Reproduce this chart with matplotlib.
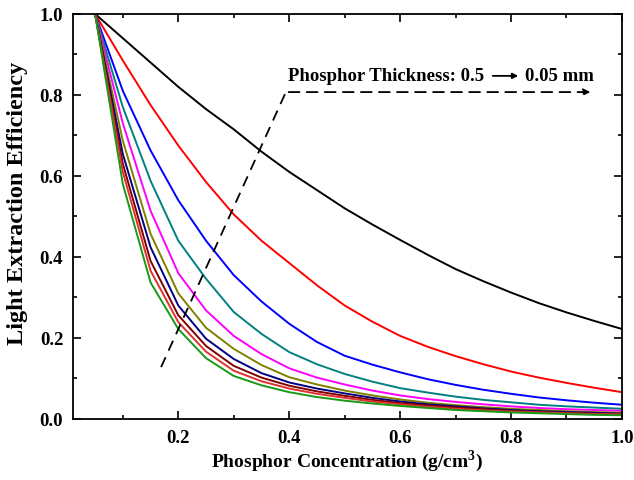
import matplotlib
matplotlib.use("Agg")
import matplotlib.pyplot as plt
from matplotlib.ticker import MultipleLocator

plt.rcParams['font.family'] = ['Liberation Serif', 'DejaVu Serif']
plt.rcParams['font.weight'] = 'bold'
plt.rcParams['mathtext.fontset'] = 'custom'
plt.rcParams['mathtext.rm'] = 'Liberation Serif:bold'
plt.rcParams['mathtext.bf'] = 'Liberation Serif:bold'

conc = [0.05, 0.1, 0.15, 0.2, 0.25, 0.3, 0.35, 0.4, 0.45, 0.5,
        0.55, 0.6, 0.65, 0.7, 0.75, 0.8, 0.85, 0.9, 0.95, 1.0]

eff_black = [1.0, 0.94, 0.88, 0.82, 0.765, 0.715, 0.66, 0.61, 0.565, 0.52,
             0.48, 0.442, 0.405, 0.37, 0.34, 0.312, 0.286, 0.263, 0.242, 0.222]
eff_red = [1.0, 0.885, 0.775, 0.675, 0.585, 0.505, 0.44, 0.385, 0.33, 0.28,
           0.24, 0.205, 0.178, 0.155, 0.135, 0.117, 0.102, 0.089, 0.077, 0.066]
eff_blue = [1.0, 0.81, 0.663, 0.54, 0.44, 0.355, 0.29, 0.235, 0.19, 0.156,
            0.134, 0.115, 0.098, 0.084, 0.072, 0.062, 0.053, 0.046, 0.040, 0.035]
eff_teal = [1.0, 0.77, 0.588, 0.44, 0.346, 0.264, 0.21, 0.165, 0.135, 0.111,
            0.092, 0.076, 0.065, 0.055, 0.047, 0.041, 0.035, 0.031, 0.028, 0.025]
eff_magenta = [1.0, 0.73, 0.514, 0.36, 0.268, 0.205, 0.16, 0.125, 0.102, 0.085,
               0.070, 0.058, 0.049, 0.042, 0.036, 0.031, 0.027, 0.024, 0.022, 0.020]
eff_olive = [1.0, 0.687, 0.457, 0.31, 0.225, 0.173, 0.133, 0.103, 0.085, 0.070,
             0.058, 0.048, 0.040, 0.034, 0.029, 0.025, 0.022, 0.019, 0.017, 0.015]
eff_navy = [1.0, 0.654, 0.424, 0.28, 0.198, 0.148, 0.113, 0.090, 0.075, 0.063,
            0.052, 0.043, 0.036, 0.031, 0.026, 0.022, 0.019, 0.017, 0.015, 0.013]
eff_maroon = [1.0, 0.63, 0.39, 0.256, 0.18, 0.131, 0.102, 0.082, 0.068, 0.057,
              0.047, 0.039, 0.033, 0.028, 0.024, 0.020, 0.017, 0.015, 0.013, 0.012]
eff_red2 = [1.0, 0.61, 0.366, 0.239, 0.166, 0.119, 0.093, 0.075, 0.062, 0.052,
            0.043, 0.036, 0.030, 0.025, 0.021, 0.018, 0.016, 0.014, 0.012, 0.011]
eff_green = [1.0, 0.58, 0.337, 0.222, 0.150, 0.106, 0.083, 0.066, 0.054, 0.045,
             0.038, 0.032, 0.027, 0.022, 0.019, 0.016, 0.014, 0.012, 0.010, 0.009]

series = [eff_black, eff_red, eff_blue, eff_teal, eff_magenta,
          eff_olive, eff_navy, eff_maroon, eff_red2, eff_green]
colors = ['#000000', '#FF0000', '#0000FF', '#008080', '#FF00FF',
          '#808000', '#000080', '#800000', '#E03030', '#169A16']

x_ticks = [0.2, 0.4, 0.6, 0.8, 1.0]
y_ticks = [0.0, 0.2, 0.4, 0.6, 0.8, 1.0]

fig = plt.figure(figsize=(6.34, 4.81), dpi=100)
ax = fig.add_axes([0.115, 0.127, 0.866, 0.842])

for ys, c in zip(series, colors):
    ax.plot(conc, ys, color=c, lw=1.4)

ax.set_xlim(0.01, 1.0)
ax.set_ylim(0.0, 1.0)
ax.set_xticks(x_ticks)
ax.set_yticks(y_ticks)
ax.set_xticklabels([f"{v:.1f}" for v in x_ticks])
ax.set_yticklabels([f"{v:.1f}" for v in y_ticks])
ax.xaxis.set_minor_locator(MultipleLocator(0.1))
ax.yaxis.set_minor_locator(MultipleLocator(0.1))
ax.tick_params(which='both', direction='in', top=True, right=True, width=1.2)
ax.tick_params(which='major', length=6, labelsize=13.5)
ax.tick_params(axis='x', which='major', pad=7)
ax.tick_params(axis='y', which='major', pad=7)
ax.tick_params(which='minor', length=3)
for sp in ax.spines.values():
    sp.set_linewidth(1.3)

ax.set_xlabel('Phosphor Concentration (g/cm$^3$)', fontsize=14, fontweight='bold', labelpad=1)
ax.set_ylabel('Light Extraction Efficiency', fontsize=17.5, fontweight='bold')
ax.yaxis.set_label_coords(-0.082, 0.535)

# annotation: dashed guide
ax.plot([0.169, 0.394], [0.128, 0.807], color='black', lw=1.3, ls=(0, (6, 4)))
ax.annotate('', xy=(0.948, 0.807), xytext=(0.394, 0.807),
            arrowprops=dict(arrowstyle='-|>', color='black', lw=1.3,
                            linestyle=(0, (6, 4)), mutation_scale=10))
ax.text(0.397, 0.847, 'Phosphor Thickness: 0.5', fontsize=13.5, fontweight='bold',
        ha='left', va='center')
ax.annotate('', xy=(0.818, 0.847), xytext=(0.762, 0.847),
            arrowprops=dict(arrowstyle='-|>', color='black', lw=1.3, mutation_scale=8))
ax.text(0.825, 0.847, '0.05 mm', fontsize=13.5, fontweight='bold', ha='left', va='center')

fig.savefig('out.png', dpi=100)
